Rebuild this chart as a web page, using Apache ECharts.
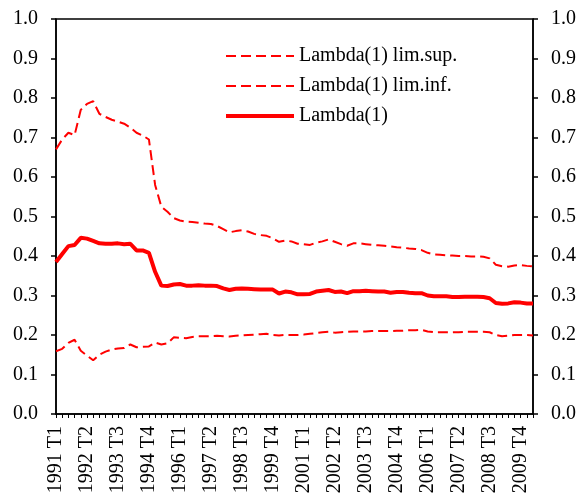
<!DOCTYPE html>
<html>
<head>
<meta charset="utf-8">
<script src="https://cdn.jsdelivr.net/npm/echarts@6/dist/echarts.min.js"></script>
<style>html,body{margin:0;padding:0;background:#fff}#c{width:583px;height:502px}</style>
</head>
<body>
<div id="c"></div>
<script>
// Quarters 1991 T1 .. 2010 T2
const years = [];
for (let y = 1991; y <= 2010; y++) years.push(y);
const quarters = ["T1","T2","T3","T4"];
const categories = [];
years.forEach(y => quarters.forEach(q => { if (categories.length < 78) categories.push(y + " " + q); }));

const supName = "Lambda(1) lim.sup.";
const infName = "Lambda(1) lim.inf.";
const midName = "Lambda(1)";

const limSup = [0.670,0.695,0.712,0.706,0.770,0.785,0.792,0.760,0.752,0.745,
0.740,0.735,0.725,0.712,0.705,0.695,0.580,0.525,0.512,0.496,
0.490,0.487,0.486,0.484,0.482,0.481,0.476,0.468,0.460,0.463,
0.465,0.462,0.456,0.453,0.451,0.445,0.436,0.439,0.437,0.431,
0.430,0.428,0.434,0.437,0.442,0.436,0.430,0.426,0.432,0.432,
0.430,0.428,0.427,0.426,0.424,0.422,0.421,0.419,0.418,0.415,
0.408,0.404,0.403,0.402,0.401,0.400,0.400,0.399,0.399,0.398,
0.394,0.378,0.374,0.373,0.376,0.377,0.375,0.374];

const limInf = [0.159,0.165,0.180,0.188,0.160,0.148,0.136,0.150,0.158,0.163,
0.166,0.167,0.176,0.169,0.170,0.171,0.181,0.176,0.179,0.194,
0.193,0.192,0.195,0.197,0.197,0.197,0.198,0.197,0.196,0.198,
0.199,0.200,0.201,0.202,0.203,0.200,0.199,0.200,0.200,0.200,
0.201,0.203,0.205,0.207,0.208,0.206,0.207,0.208,0.209,0.209,
0.209,0.210,0.210,0.210,0.210,0.211,0.211,0.212,0.212,0.213,
0.209,0.207,0.207,0.207,0.207,0.207,0.208,0.208,0.208,0.208,
0.207,0.200,0.197,0.198,0.200,0.200,0.200,0.199];

const lambda1 = [0.385,0.405,0.425,0.428,0.446,0.444,0.438,0.432,0.431,0.431,
0.432,0.430,0.431,0.414,0.414,0.408,0.360,0.325,0.324,0.328,
0.329,0.325,0.325,0.326,0.325,0.325,0.324,0.318,0.314,0.317,
0.318,0.317,0.316,0.315,0.315,0.315,0.305,0.310,0.308,0.303,
0.303,0.304,0.310,0.312,0.314,0.309,0.310,0.306,0.311,0.311,
0.312,0.311,0.310,0.310,0.307,0.309,0.309,0.307,0.306,0.306,
0.300,0.298,0.298,0.298,0.296,0.296,0.297,0.297,0.297,0.296,
0.293,0.281,0.279,0.280,0.283,0.282,0.280,0.280];

const yTicks = [0,0.1,0.2,0.3,0.4,0.5,0.6,0.7,0.8,0.9,1.0];

const font = "'Liberation Serif', 'DejaVu Serif', serif";
const black = "#000";

function yAxis(pos) {
  return {
    type: "value", position: pos, min: yTicks[0], max: yTicks[yTicks.length-1], interval: 0.1,
    axisLine: {show: true, lineStyle: {color: black, width: 1.5}},
    axisTick: {show: true, length: 5, inside: false, lineStyle: {color: black, width: 1.5}},
    axisLabel: {show: true, margin: 18, color: black, fontFamily: font, fontSize: 20,
      formatter: v => v.toFixed(1)},
    splitLine: {show: false}
  };
}

const chart = echarts.init(document.getElementById("c"), null, {renderer: "canvas"});
chart.setOption({
  animation: false,
  backgroundColor: "#fff",
  grid: {left: 56, right: 50, top: 19, bottom: 88, show: true, borderColor: black, borderWidth: 1.5, backgroundColor: "transparent"},
  legend: {
    orient: "vertical", left: 219, top: 41,
    itemWidth: 68, itemHeight: 14, itemGap: 10,
    data: [
      {name: supName, lineStyle: {width: 2, type: [10, 5]}},
      {name: infName, lineStyle: {width: 2, type: [10, 5]}},
      {name: midName, lineStyle: {width: 4, type: "solid"}}
    ],
    itemStyle: {opacity: 0},
    textStyle: {fontFamily: font, fontSize: 20, color: black, lineHeight: 20}
  },
  xAxis: {
    type: "category", data: categories, boundaryGap: false,
    axisLine: {show: true, lineStyle: {color: black, width: 1.5}},
    axisTick: {show: true, interval: 0, length: 4, lineStyle: {color: black, width: 1}},
    axisLabel: {interval: 4, rotate: 90, margin: 12, color: black, fontFamily: font, fontSize: 20},
    splitLine: {show: false}
  },
  yAxis: [yAxis("left"), yAxis("right")],
  series: [
    {name: supName, type: "line", data: limSup, showSymbol: false, symbol: "none",
     lineStyle: {color: "#ff0000", width: 2, type: [10, 5]}, itemStyle: {color: "#ff0000"}},
    {name: infName, type: "line", data: limInf, showSymbol: false, symbol: "none",
     lineStyle: {color: "#ff0000", width: 2, type: [10, 5]}, itemStyle: {color: "#ff0000"}},
    {name: midName, type: "line", data: lambda1, showSymbol: false, symbol: "none",
     lineStyle: {color: "#ff0000", width: 4}, itemStyle: {color: "#ff0000"}}
  ]
});
</script>
</body>
</html>
